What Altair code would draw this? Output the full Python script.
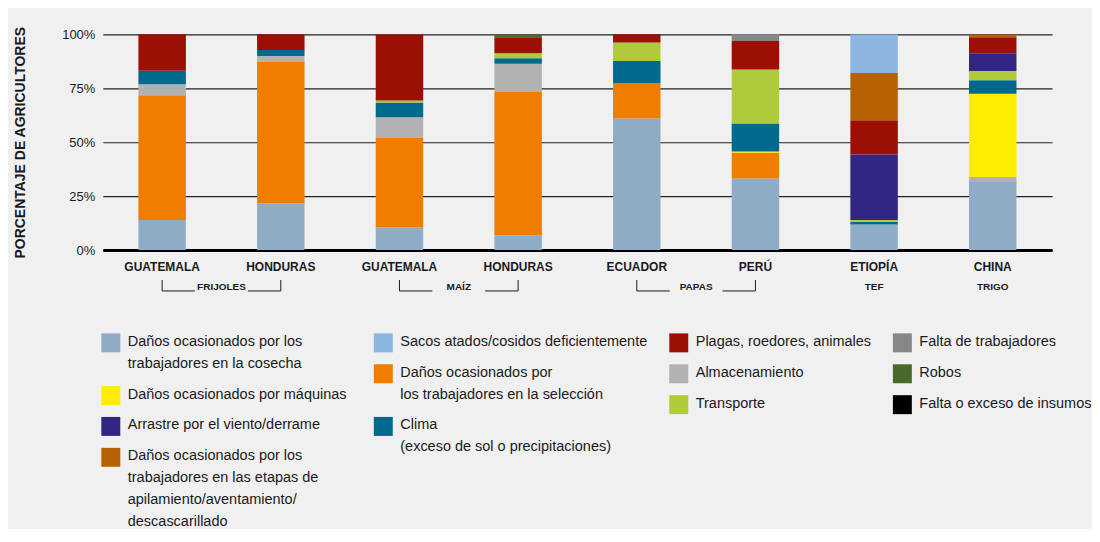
import altair as alt
import pandas as pd

# ---------------- data ----------------
countries = ["GUATEMALA", "HONDURAS", "GUATEMALA", "HONDURAS", "ECUADOR", "PERÚ", "ETIOPÍA", "CHINA"]
crops = ["FRIJOLES", "FRIJOLES", "MAÍZ", "MAÍZ", "PAPAS", "PAPAS", "TEF", "TRIGO"]

causes = ["cosecha", "seleccion", "almacen", "maquinas", "clima", "transporte", "viento",
          "plagas", "apilamiento", "sacos", "falta", "robos", "insumos"]

cosecha     = [13.9, 21.6, 10.5, 6.9, 61.0, 33.2, 11.9, 31.6]
seleccion   = [57.9, 65.6, 41.5, 66.4, 16.5, 11.9, 0, 0]
almacen     = [5.1, 2.8, 9.6, 13.1, 0, 0, 0, 2.3]
maquinas    = [0, 0, 0, 0, 0, 0.6, 0, 38.6]
clima       = [6.2, 2.8, 6.8, 2.6, 10.2, 13.0, 1.2, 6.2]
transporte  = [0, 0, 0.9, 2.3, 8.5, 25.0, 0.8, 4.3]
viento      = [0, 0, 0, 0, 0, 0, 30.4, 8.3]
plagas      = [17.0, 7.3, 30.7, 7.4, 3.9, 13.3, 15.9, 7.4]
apilamiento = [0, 0, 0, 0, 0, 0, 21.9, 1.2]
sacos       = [0, 0, 0, 0, 0, 0, 17.9, 0]
falta       = [0, 0, 0, 0, 0, 3.1, 0, 0]
robos       = [0, 0, 0, 1.2, 0, 0, 0, 0]
insumos     = [0, 0, 0, 0, 0, 0, 0, 0]

colors = ["#8eacc5", "#ef7d00", "#b2b2b2", "#ffec00", "#006a8e", "#b0cb39", "#312782",
          "#9c0f04", "#b66200", "#8cb5e0", "#878787", "#4a6a2b", "#000000"]

legend_labels = {
    "cosecha": "Daños ocasionados por los\ntrabajadores en la cosecha",
    "maquinas": "Daños ocasionados por máquinas",
    "viento": "Arrastre por el viento/derrame",
    "apilamiento": "Daños ocasionados por los\ntrabajadores en las etapas de\napilamiento/aventamiento/\ndescascarillado",
    "sacos": "Sacos atados/cosidos deficientemente",
    "seleccion": "Daños ocasionados por\nlos trabajadores en la selección",
    "clima": "Clima\n(exceso de sol o precipitaciones)",
    "plagas": "Plagas, roedores, animales",
    "almacen": "Almacenamiento",
    "transporte": "Transporte",
    "falta": "Falta de trabajadores",
    "robos": "Robos",
    "insumos": "Falta o exceso de insumos",
}
legend_columns = [
    ["cosecha", "maquinas", "viento", "apilamiento"],
    ["sacos", "seleccion", "clima"],
    ["plagas", "almacen", "transporte"],
    ["falta", "robos", "insumos"],
]

series = {
    "cosecha": cosecha, "seleccion": seleccion, "almacen": almacen, "maquinas": maquinas,
    "clima": clima, "transporte": transporte, "viento": viento, "plagas": plagas,
    "apilamiento": apilamiento, "sacos": sacos, "falta": falta, "robos": robos, "insumos": insumos,
}

# ---------------- build tables ----------------
keys = [f"{c} ({g})" for c, g in zip(countries, crops)]
rows = []
for ci, cause in enumerate(causes):
    for k, v in zip(keys, series[cause]):
        if v > 0:
            rows.append({"key": k, "cause": cause, "ci": ci, "value": v})
df = pd.DataFrame(rows)

groups = []
for g in dict.fromkeys(crops):
    members = [k for k, c in zip(keys, crops) if c == g]
    groups.append({"group": g, "first": members[0], "last": members[-1], "n": len(members)})
pairs = pd.DataFrame([{"key": x["first"], "group": x["group"]} for x in groups if x["n"] > 1])
singles = pd.DataFrame([{"key": x["first"], "group": x["group"]} for x in groups if x["n"] == 1])
pair_ends = pd.DataFrame([{"key": k} for x in groups if x["n"] > 1 for k in (x["first"], x["last"])])
pair_last = pd.DataFrame([{"key": x["last"]} for x in groups if x["n"] > 1])

W, H = 951, 216
STEP = W / len(keys)
FONT = "Liberation Sans, Arial, sans-serif"
TXT = "#1a1a1a"

xscale = alt.Scale(domain=keys, paddingInner=0.6, paddingOuter=0.3)
xenc = alt.X("key:N", sort=keys, scale=xscale,
             axis=alt.Axis(title=None, labelExpr="split(datum.label, ' (')[0]", labelAngle=0,
                           labelFont=FONT, labelFontSize=12, labelFontWeight="bold",
                           labelColor=TXT, ticks=False, labelPadding=12,
                           domainColor="#000000", domainWidth=3))

bars = alt.Chart(df).mark_bar().encode(
    x=xenc,
    y=alt.Y("value:Q", stack="zero", scale=alt.Scale(domain=[0, 100]),
            axis=alt.Axis(values=[0, 25, 50, 75, 100], labelExpr="datum.value + '%'",
                          title="PORCENTAJE DE AGRICULTORES", titleFont=FONT,
                          titleFontSize=14, titleFontWeight="bold", titleColor=TXT,
                          titlePadding=34, grid=True, gridColor="#222222", gridWidth=1.2,
                          domain=False, ticks=False, labelPadding=8, labelFont=FONT,
                          labelFontSize=13, labelColor=TXT)),
    color=alt.Color("cause:N", scale=alt.Scale(domain=causes, range=colors), legend=None),
    order=alt.Order("ci:Q", sort="ascending"),
)

pair_text = alt.Chart(pairs).mark_text(dx=STEP / 2, baseline="middle", font=FONT, fontSize=10,
                                       fontWeight="bold", color=TXT).encode(
    x=alt.X("key:N", sort=keys, scale=xscale), y=alt.value(H + 37), text="group:N")
single_text = alt.Chart(singles).mark_text(baseline="middle", font=FONT, fontSize=10,
                                           fontWeight="bold", color=TXT).encode(
    x=alt.X("key:N", sort=keys, scale=xscale), y=alt.value(H + 37), text="group:N")
vticks = alt.Chart(pair_ends).mark_rule(color=TXT, strokeWidth=1).encode(
    x=alt.X("key:N", sort=keys, scale=xscale), y=alt.value(H + 30), y2=alt.value(H + 41))
left_seg = alt.Chart(pairs).mark_rule(color=TXT, strokeWidth=1, x2Offset=33).encode(
    x=alt.X("key:N", sort=keys, scale=xscale), x2=alt.X2("key:N"), y=alt.value(H + 41))
right_seg = alt.Chart(pair_last).mark_rule(color=TXT, strokeWidth=1, xOffset=-33).encode(
    x=alt.X("key:N", sort=keys, scale=xscale), x2=alt.X2("key:N"), y=alt.value(H + 41))

main = alt.layer(bars, vticks, left_seg, right_seg, pair_text, single_text).properties(width=W, height=H)

# ---------------- legend ----------------
LH = 21.8
GAP = 0.42
NL = 8.7
FS = 14.5
col_widths = [273, 296, 224, 160]
legend_cols = []
for cols, cw in zip(legend_columns, col_widths):
    recs = []
    start = 0.0
    for c in cols:
        lab = legend_labels[c]
        recs.append({"cause": c, "label": lab, "start": start})
        start += lab.count("\n") + 1 + GAP
    ldf = pd.DataFrame(recs)
    ys = alt.Y("start:Q", scale=alt.Scale(domain=[0, NL], reverse=True), axis=None)
    sw = alt.Chart(ldf).mark_square(size=361, opacity=1, yOffset=8).encode(
        x=alt.value(8), y=ys,
        color=alt.Color("cause:N", scale=alt.Scale(domain=causes, range=colors), legend=None))
    tx = alt.Chart(ldf).mark_text(align="left", baseline="top", lineBreak="\n", lineHeight=LH,
                                  font=FONT, fontSize=FS, color=TXT).encode(
        x=alt.value(25), y=ys, text="label:N")
    legend_cols.append(alt.layer(sw, tx).properties(width=cw, height=NL * LH))

legend = alt.hconcat(*legend_cols, spacing=0, bounds="flush").resolve_scale(color="shared")

chart = alt.vconcat(main, legend, spacing=41).configure(
    background="#f0f0f0",
    padding={"left": 5, "top": 17, "right": 0, "bottom": 0},
).configure_view(stroke=None)

chart.save("out.html", embed_options={"renderer": "svg", "actions": False})
